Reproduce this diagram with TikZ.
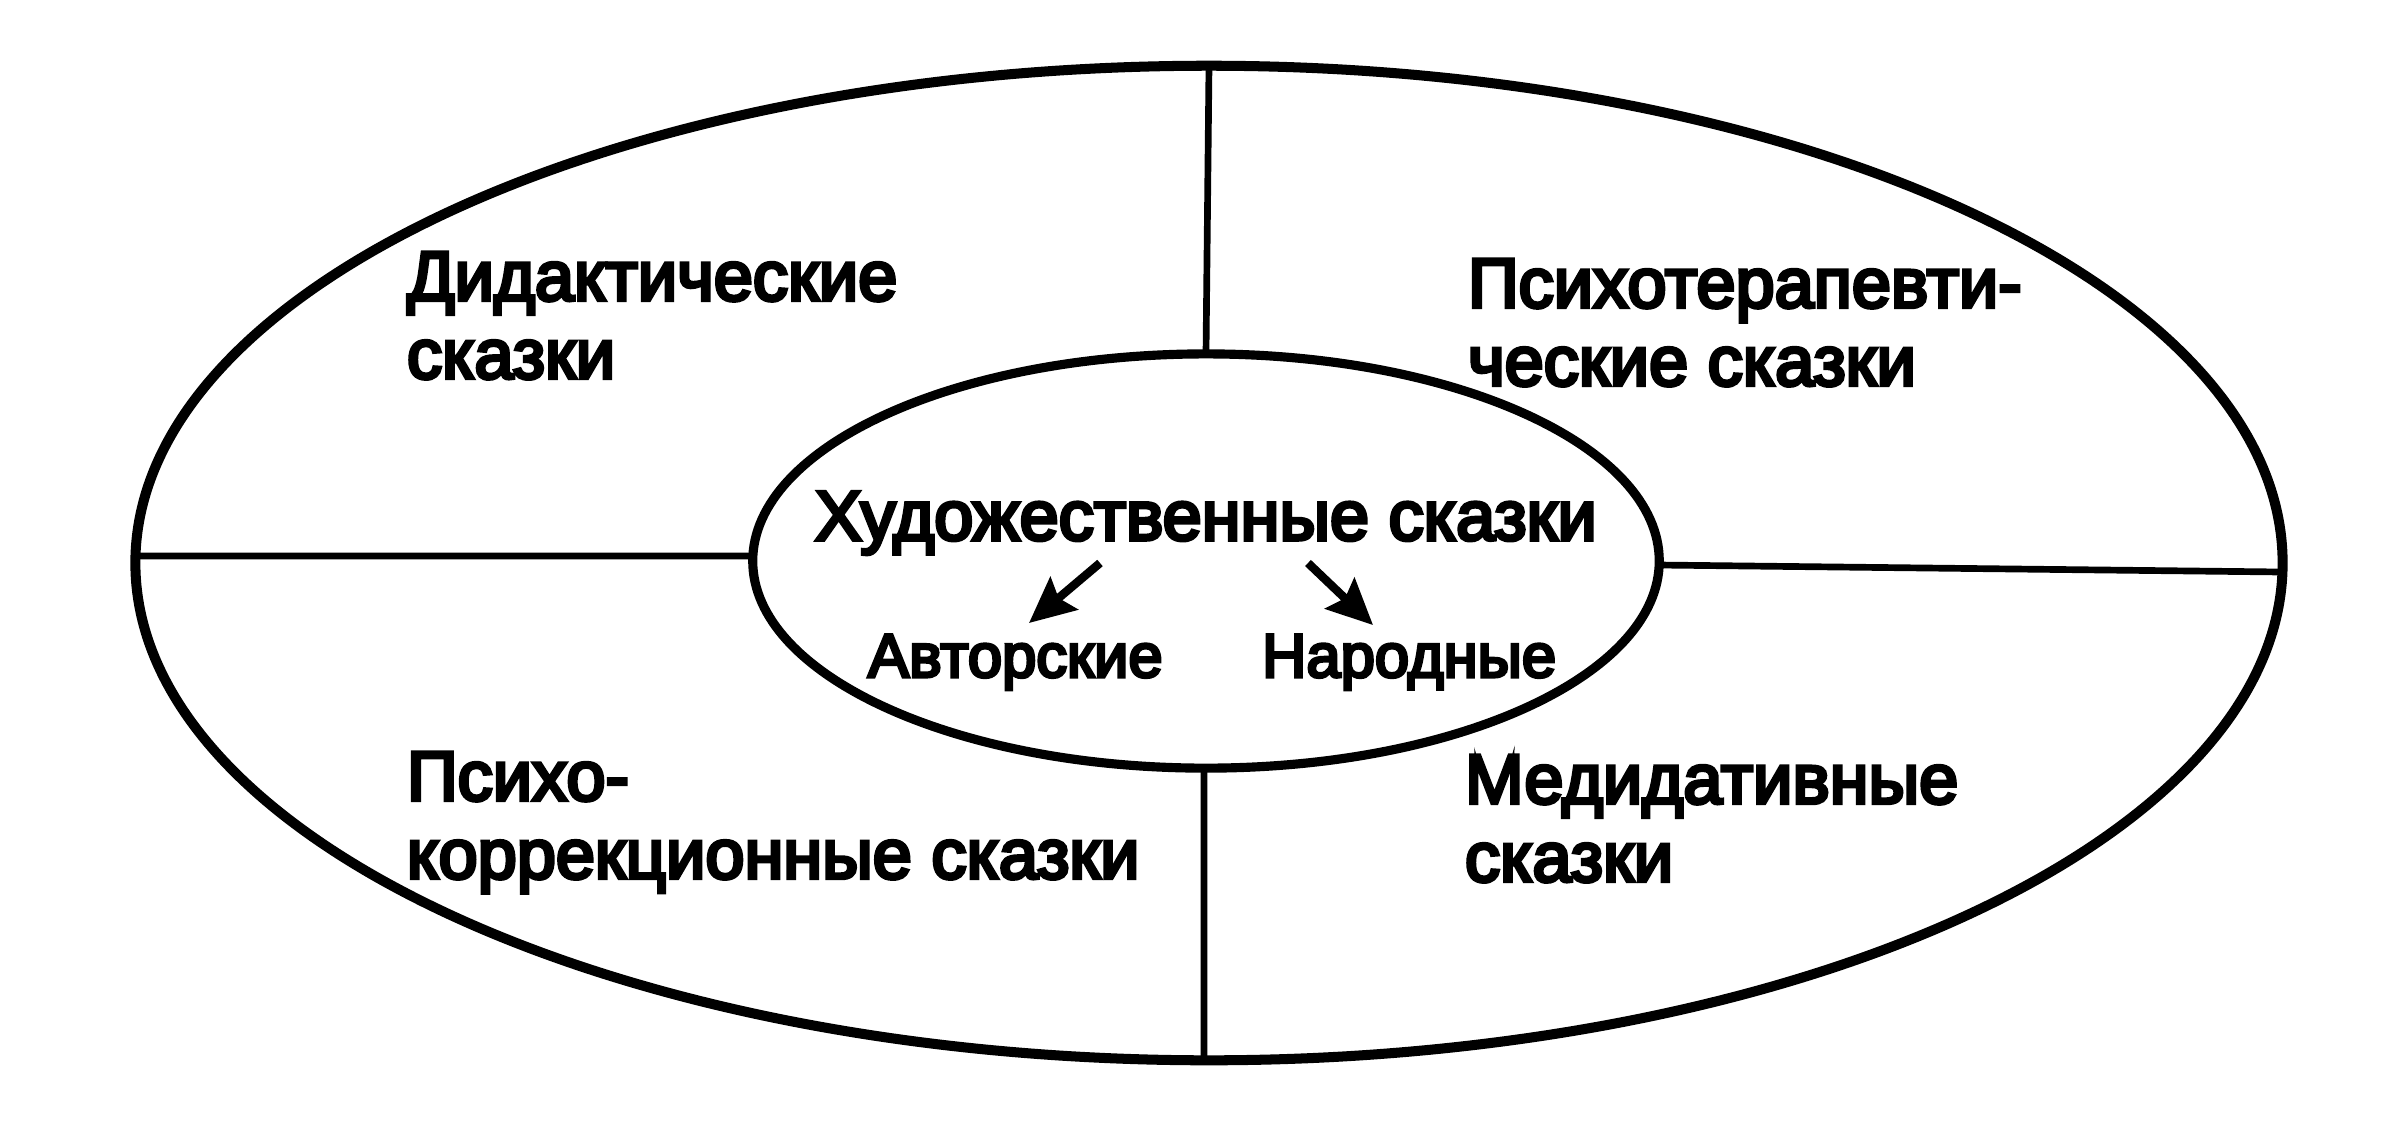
\documentclass[tikz,border=0pt]{standalone}
\usepackage{fontspec}
\usetikzlibrary{shapes.geometric,arrows.meta}
\newfontfamily\lblfont{Liberation Sans}[FakeBold=5]
\begin{document}
\begin{tikzpicture}[x=0.01cm,y=-0.01cm,
  lbl/.style={font=\lblfont\fontsize{20}{22.2}\selectfont, inner sep=0pt, outer sep=0pt, align=left, anchor=north west},
  sublbl/.style={font=\lblfont\fontsize{17.5}{20}\selectfont, inner sep=0pt, outer sep=0pt, anchor=base west},
  ring/.style={ellipse, draw, inner sep=0pt, outer sep=0pt},
  divider/.style={line width=1.9pt},
  pointer/.style={line width=2.4pt, -{Stealth[length=13pt,width=12pt,inset=2pt]}}]
\fill[white] (0,0) rectangle (2408,1132);
\useasboundingbox (0,0) rectangle (2408,1132);
\node[ring, line width=2.85pt, minimum width=21.46cm, minimum height=9.94cm] (outer) at (1209,563) {};
\node[ring, line width=2.6pt, minimum width=9.06cm, minimum height=4.14cm] (inner) at (1206,561) {};
\draw[divider] (outer.north) -- (inner.north);
\draw[divider] ([yshift=0.07cm]outer.west) -- ([yshift=0.05cm]inner.west);
\draw[divider] ([yshift=-0.09cm]outer.east) -- ([yshift=-0.04cm]inner.east);
\draw[divider] ([xshift=-0.05cm]outer.south) -- ([xshift=-0.02cm]inner.south);
\node[lbl] (didact) at (407,252) {Дидактические\\сказки};
\node[lbl] (psyth) at (1468,259) {Психотерапевти-\\ческие сказки};
\node[lbl] (psycor) at (407,752) {Психо-\\коррекционные сказки};
\node[lbl] (medit) at (1465,755) {Медидативные\\сказки};
\node[lbl, anchor=base west] (title) at (815,540) {Художественные сказки};
\node[sublbl] (avt) at (868,677) {Авторские};
\node[sublbl] (nar) at (1262,677) {Народные};
\coordinate (la) at (1100,563);
\coordinate (lt) at (1029,623);
\draw[pointer] (la) -- (lt);
\coordinate (ra) at (1308,563);
\coordinate (rt) at (1373,625);
\draw[pointer] (ra) -- (rt);
\end{tikzpicture}
\end{document}
